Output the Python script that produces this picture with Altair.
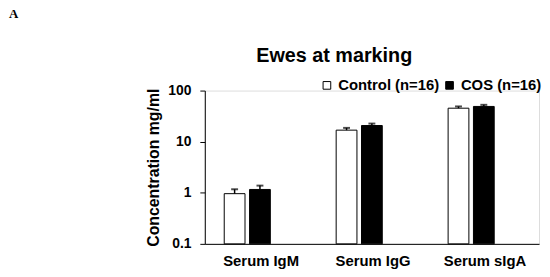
import altair as alt
import pandas as pd

categories = ["Serum IgM", "Serum IgG", "Serum sIgA"]
groups = ["Control (n=16)", "COS (n=16)"]
control_mean = [0.96, 16.8, 45.2]
control_sem = [0.21, 1.8, 3.7]
cos_mean = [1.16, 20.7, 48.9]
cos_sem = [0.22, 1.9, 3.7]
y_ticks = [0.1, 1, 10, 100]
y_min = 0.1
y_max = 100

rows = []
for i, c in enumerate(categories):
    rows.append({"cat": c, "grp": groups[0], "mean": control_mean[i], "top": control_mean[i] + control_sem[i]})
    rows.append({"cat": c, "grp": groups[1], "mean": cos_mean[i], "top": cos_mean[i] + cos_sem[i]})
df = pd.DataFrame(rows)

FONT = "Liberation Sans"

x_enc = alt.X("cat:N", sort=categories, title=None,
              scale=alt.Scale(paddingInner=0.5583, paddingOuter=0.2721, align=0.2917),
              axis=alt.Axis(labelAngle=0, ticks=False, tickSize=0, labelFontSize=15,
                            labelFontWeight="bold", labelColor="black", labelPadding=10,
                            labelOffset=14, domainColor="black", domainWidth=1, grid=False,
                            labelFont=FONT))
xoff = alt.XOffset("grp:N", sort=groups, scale=alt.Scale(paddingInner=0.18, paddingOuter=0.066))
y_scale = alt.Scale(type="log", domain=[y_min, y_max], nice=False)

bars = alt.Chart(df).mark_bar(stroke="black", strokeWidth=1).encode(
    x=x_enc,
    xOffset=xoff,
    y=alt.Y("mean:Q", scale=y_scale, title="Concentration mg/ml",
            axis=alt.Axis(values=y_ticks, format="~g", tickSize=5, tickColor="black",
                          domainColor="black", labelFontSize=14, labelFontWeight="bold",
                          labelColor="black", labelPadding=9, grid=False, titleFontSize=16,
                          titleFontWeight="bold", titleColor="black", titlePadding=6,
                          labelFont=FONT, titleFont=FONT)),
    y2=alt.datum(y_min),
    fill=alt.Fill("grp:N", sort=groups,
                  scale=alt.Scale(domain=groups, range=["white", "black"]),
                  legend=alt.Legend(title=None, orient="none", direction="horizontal",
                                    legendX=116, legendY=-13, symbolType="square",
                                    symbolSize=60, symbolStrokeColor="black",
                                    symbolStrokeWidth=1, labelFontSize=15,
                                    labelFontWeight="bold", labelColor="black",
                                    labelFont=FONT, labelOffset=4, columnPadding=2,
                                    padding=0)),
)

err_line = alt.Chart(df).mark_rule(color="black", strokeWidth=1.5).encode(
    x=alt.X("cat:N", sort=categories),
    xOffset=xoff,
    y=alt.Y("mean:Q", scale=y_scale),
    y2="top:Q",
)

err_cap = alt.Chart(df).mark_tick(color="black", thickness=2, size=7, orient="horizontal").encode(
    x=alt.X("cat:N", sort=categories),
    xOffset=xoff,
    y=alt.Y("top:Q", scale=y_scale),
)

label_a = alt.Chart(pd.DataFrame({"t": ["A"]})).mark_text(
    font="Liberation Serif", fontSize=13, fontWeight="bold", align="left",
    baseline="alphabetic", color="black"
).encode(x=alt.value(-198), y=alt.value(-73), text="t:N")

title_txt = alt.Chart(pd.DataFrame({"t": ["Ewes at marking"]})).mark_text(
    font=FONT, fontSize=20, fontWeight="bold", align="left",
    baseline="alphabetic", color="black"
).encode(x=alt.value(52), y=alt.value(-29), text="t:N")

chart = alt.layer(bars, err_line, err_cap, label_a, title_txt).properties(
    width=338, height=155,
    autosize=alt.AutoSizeParams(type="none"),
    padding={"left": 199, "top": 82, "right": 3, "bottom": 30},
).configure_view(stroke=None).configure(background="white")

chart.save("out.html", embed_options={"renderer": "svg", "actions": False})
